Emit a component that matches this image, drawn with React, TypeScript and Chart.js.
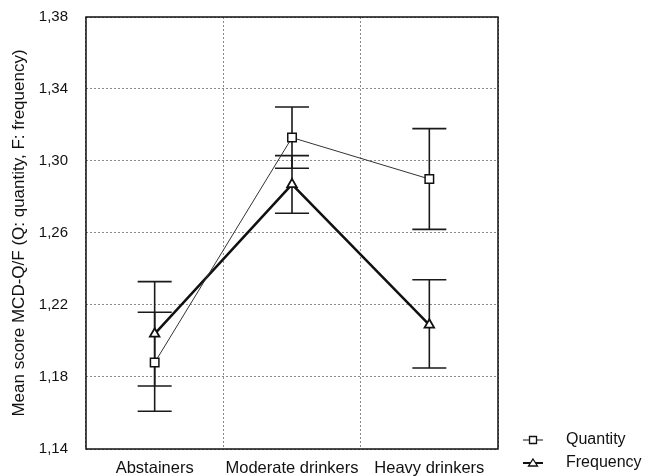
import React, { useEffect, useRef } from "react";
import { Chart, registerables } from "chart.js";

Chart.register(...registerables);

const CATEGORIES = ["Abstainers", "Moderate drinkers", "Heavy drinkers"];
const QUANTITY = [1.188, 1.313, 1.29];
const QUANTITY_LOW = [1.161, 1.296, 1.262];
const QUANTITY_HIGH = [1.216, 1.33, 1.318];
const FREQUENCY = [1.204, 1.287, 1.209];
const FREQUENCY_LOW = [1.175, 1.271, 1.185];
const FREQUENCY_HIGH = [1.233, 1.303, 1.234];
const Y_TICKS = [1.14, 1.18, 1.22, 1.26, 1.3, 1.34, 1.38];
const Y_TITLE = "Mean score MCD-Q/F (Q: quantity, F: frequency)";
const SERIES_NAMES = ["Quantity", "Frequency"];

const FONT = "'Liberation Sans', Arial, sans-serif";

export default function App() {
  const ref = useRef<HTMLCanvasElement | null>(null);

  useEffect(() => {
    if (!ref.current) return;

    const errorBars = {
      id: "errorBars",
      beforeDatasetsDraw(chart: any) {
        const ctx = chart.ctx;
        const x = chart.scales.x;
        const y = chart.scales.y;
        const sets = [
          [QUANTITY_LOW, QUANTITY_HIGH],
          [FREQUENCY_LOW, FREQUENCY_HIGH],
        ];
        ctx.save();
        ctx.strokeStyle = "#1a1a1a";
        ctx.lineWidth = 1.6;
        sets.forEach(([lo, hi]) => {
          lo.forEach((l: number, i: number) => {
            const px = x.getPixelForValue(i);
            const pl = y.getPixelForValue(l);
            const ph = y.getPixelForValue(hi[i]);
            ctx.beginPath();
            ctx.moveTo(px, pl);
            ctx.lineTo(px, ph);
            ctx.moveTo(px - 17, pl);
            ctx.lineTo(px + 17, pl);
            ctx.moveTo(px - 17, ph);
            ctx.lineTo(px + 17, ph);
            ctx.stroke();
          });
        });
        ctx.restore();
      },
      afterDraw(chart: any) {
        const ctx = chart.ctx;
        const a = chart.chartArea;
        ctx.save();
        ctx.strokeStyle = "#111";
        ctx.lineWidth = 1.5;
        ctx.strokeRect(a.left, a.top, a.right - a.left, a.bottom - a.top);

        // legend
        const items = [
          { name: SERIES_NAMES[0], y: 440, w: 1, style: "rect" },
          { name: SERIES_NAMES[1], y: 463, w: 2, style: "triangle" },
        ];
        items.forEach((it) => {
          ctx.strokeStyle = "#111";
          ctx.lineWidth = it.w;
          ctx.beginPath();
          ctx.moveTo(523, it.y);
          ctx.lineTo(543, it.y);
          ctx.stroke();
          ctx.fillStyle = "#fff";
          ctx.lineWidth = 1.3;
          ctx.beginPath();
          if (it.style === "rect") {
            ctx.rect(533 - 3.5, it.y - 3.5, 7, 7);
          } else {
            ctx.moveTo(533, it.y - 4);
            ctx.lineTo(537.5, it.y + 3);
            ctx.lineTo(528.5, it.y + 3);
            ctx.closePath();
          }
          ctx.fill();
          ctx.stroke();
          ctx.fillStyle = "#111";
          ctx.font = `16px ${FONT}`;
          ctx.textAlign = "left";
          ctx.textBaseline = "middle";
          ctx.fillText(it.name, 566, it.y);
        });
        ctx.restore();
      },
    };

    const chart = new Chart(ref.current, {
      type: "line",
      data: {
        labels: CATEGORIES,
        datasets: [
          {
            label: SERIES_NAMES[0],
            data: QUANTITY,
            borderColor: "#333",
            borderWidth: 1,
            pointStyle: "rect",
            pointRadius: 6,
            pointBackgroundColor: "#fff",
            pointBorderColor: "#111",
            pointBorderWidth: 1.5,
            tension: 0,
          },
          {
            label: SERIES_NAMES[1],
            data: FREQUENCY,
            borderColor: "#111",
            borderWidth: 2.5,
            pointStyle: "triangle",
            pointRadius: 5.5,
            pointBackgroundColor: "#fff",
            pointBorderColor: "#111",
            pointBorderWidth: 1.8,
            tension: 0,
          },
        ],
      },
      options: {
        responsive: false,
        animation: false,
        devicePixelRatio: 1,
        layout: { autoPadding: false, padding: { left: 0, right: 147, top: 17, bottom: 0 } },
        plugins: {
          legend: { display: false },
          tooltip: { enabled: false },
        },
        scales: {
          x: {
            type: "category",
            offset: true,
            grid: {
              offset: true,
              color: "#8a8a8a",
              lineWidth: 1,
              drawTicks: false,
            },
            border: { display: false, dash: [2, 2] },
            ticks: {
              color: "#111",
              font: { family: FONT, size: 16.5 },
              padding: 10,
              maxRotation: 0,
              autoSkip: false,
            },
            afterFit: (s: any) => {
              s.height = 27;
              s.paddingLeft = 0;
              s.paddingRight = 0;
            },
          },
          y: {
            min: 1.14,
            max: 1.38,
            grid: { color: "#8a8a8a", lineWidth: 1, drawTicks: false },
            border: { display: false, dash: [2, 2] },
            afterBuildTicks: (s: any) => {
              s.ticks = Y_TICKS.map((v) => ({ value: v }));
            },
            ticks: {
              color: "#111",
              font: { family: FONT, size: 15 },
              padding: 18,
              callback: (v: any) => Number(v).toFixed(2).replace(".", ","),
            },
            title: {
              display: true,
              text: Y_TITLE,
              color: "#111",
              font: { family: FONT, size: 17 },
              padding: { top: 9, bottom: 0 },
            },
            afterFit: (s: any) => {
              s.width = 86;
              s.paddingTop = 0;
              s.paddingBottom = 0;
            },
          },
        },
      },
      plugins: [errorBars],
    });
    return () => chart.destroy();
  }, []);

  return (
    <div style={{ position: "fixed", left: 0, top: 0, width: 645, height: 476, background: "#fff" }}>
      <canvas ref={ref} width={645} height={476} style={{ display: "block" }} />
    </div>
  );
}
